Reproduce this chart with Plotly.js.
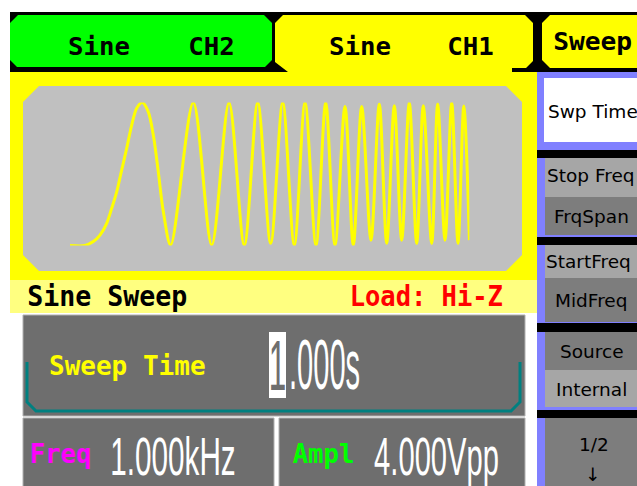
<!DOCTYPE html>
<html><head><meta charset="utf-8">
<script src="https://cdn.plot.ly/plotly-3.0.1.min.js"></script>
<style>html,body{margin:0;padding:0;background:#fff;overflow:hidden}</style>
</head><body><div id="chart" style="width:637px;height:486px"></div>
<script>
// ---- Data read from the display ----
// Sine sweep preview: time in ms over the 1.000 s sweep, output level in volts (4.000 Vpp)
var sweepTimeMs = [0, 37.6, 58.3, 75.1, 91.9, 104.4, 116.9, 129.4, 142.0, 154.5, 167.0, 181.0, 196.0, 208.6, 221.1, 233.6, 252.1,
  308.7, 354.8, 398.1, 436.4, 470.0, 502.5, 532.5, 561.6, 588.4, 615.9, 640.2, 663.5, 688.5, 709.3, 730.3, 753.6,
  774.4, 793.0, 812.0, 830.5, 849.5, 868.1, 884.6, 905.6, 920.6, 938.9, 955.7, 971.5, 986.0, 1000];
var sweepLevelV = [-2.0, -2.0, -1.89, -1.71, -1.38, -0.96, -0.50, 0.11, 0.72, 1.37, 1.84, 2.0, 1.74, 1.09, 0.06, -1.05, -1.99,
  2.0, -1.99, 2.0, -1.99, 2.0, -1.94, 2.0, -1.99, 2.0, -1.99, 2.0, -1.99, 1.89, -1.99, 1.89, -1.85,
  1.96, -1.94, 1.91, -1.85, 2.0, -1.94, 1.91, -1.94, 1.96, -1.85, 2.0, -1.94, 1.9, -1.85];

var tabLabels = ["Sine", "CH2", "Sine", "CH1", "Sweep"];
var statusLabels = ["Sine Sweep", "Load: Hi-Z"];
var paramName = "Sweep Time";
var paramDigit = "1";
var paramRest = ".000s";
var freqLabel = "Freq", freqValue = "1.000kHz";
var amplLabel = "Ampl", amplValue = "4.000Vpp";
var menuLabels = ["Swp Time", "Stop Freq", "FrqSpan", "StartFreq", "MidFreq", "Source", "Internal", "1/2", "\u2193"];

// ---- Layout helpers (pixel space: x 0..637, y 0..486 downward) ----
var W = 637, H = 486;
function rect(x0, y0, x1, y1, fill, line, lw) {
  return {type: 'rect', xref: 'x', yref: 'y', x0: x0, y0: y0, x1: x1, y1: y1, layer: 'below',
    fillcolor: fill, line: {width: lw || 0, color: line || 'rgba(0,0,0,0)'}};
}
function path(d, fill, line, lw) {
  return {type: 'path', xref: 'x', yref: 'y', path: d, layer: 'below',
    fillcolor: fill || 'rgba(0,0,0,0)', line: {width: lw || 0, color: line || 'rgba(0,0,0,0)'}};
}
var GRAY = '#6e6e6e', LIGHTBTN = '#a6a6a6', DARKBTN = '#7d7d7d';
var shapes = [
  rect(10, 12, W, 72, '#000000'),
  path('M10,23 L18,15 L264,15 L272,23 L272,60 L265,67 L17,67 L10,60 Z', '#00ff00'),
  path('M275,23 L283,15 L525,15 L533,23 L533,61 L526,68 L512,68 L512,72 L288,72 L275,62 Z', '#ffff00'),
  path('M542,23 L550,15 L637,15 L637,68 L550,68 L542,60 Z', '#ffff00'),
  rect(10, 72, 537, 280, '#ffff00'),
  path('M39,86 L506,86 L522,102 L522,255 L506,271 L39,271 L23,255 L23,102 Z', '#c0c0c0'),
  rect(10, 280, 537, 313, '#ffff80'),
  rect(537, 72, W, H, '#8080ff'),
  rect(544, 78, W, 142, '#ffffff'),
  rect(537, 150, W, 158, '#000000'),
  rect(545, 158, W, 197, LIGHTBTN),
  rect(545, 197, W, 235, DARKBTN),
  rect(537, 237, W, 245, '#000000'),
  rect(545, 245, W, 278, LIGHTBTN),
  rect(545, 278, W, 322, DARKBTN),
  rect(537, 323, W, 332, '#000000'),
  rect(545, 332, W, 370, DARKBTN),
  rect(545, 370, W, 407, LIGHTBTN),
  rect(537, 410, W, 418, '#000000'),
  rect(545, 418, W, H, DARKBTN),
  rect(23, 315, 525, 416, GRAY, '#b0b0b0', 1),
  path('M27,362 L27,402 L36,411 L511,411 L520,402 L520,362', null, '#008080', 3),
  rect(23, 418, 274, 492, GRAY, '#b0b0b0', 1),
  rect(279, 418, 525, 492, GRAY, '#b0b0b0', 1),
  rect(269, 332, 286, 398, '#ffffff')
];

// ---- Text ----
var MONO = 'DejaVu Sans Mono', BIG = 'Liberation Sans', UI = 'DejaVu Sans';
var annotations = [], squeeze = [];
function txt(t, x, y, family, size, color, weight, xanchor, sx) {
  annotations.push({text: t, x: x, y: y, xref: 'x', yref: 'y', showarrow: false,
    xanchor: xanchor || 'center', yanchor: 'middle', borderpad: 0,
    font: {family: family, size: size, color: color, weight: weight || 'normal'}});
  squeeze.push(sx || 1);
}
txt(tabLabels[0], 99, 46, MONO, 25, '#000', 'bold', 'center', 1.03);
txt(tabLabels[1], 211.5, 46, MONO, 25, '#000', 'bold', 'center', 1.03);
txt(tabLabels[2], 360, 46, MONO, 25, '#000', 'bold', 'center', 1.03);
txt(tabLabels[3], 470.5, 46, MONO, 25, '#000', 'bold', 'center', 1.03);
txt(tabLabels[4], 592.5, 41, MONO, 25, '#000', 'bold', 'center', 1.05);
txt(statusLabels[0], 107.6, 296, MONO, 28, '#000', 'bold', 'center', 0.95);
txt(statusLabels[1], 426, 296, MONO, 28, '#ff0000', 'bold', 'center', 0.91);
txt(paramName, 127.5, 365.5, MONO, 26, '#ffff00', 'bold', 'center', 1.0);
txt(paramDigit, 277.5, 366, BIG, 70, GRAY, 'normal', 'center', 0.45);
txt(paramRest, 324.5, 365, BIG, 70, '#ffffff', 'normal', 'center', 0.415);
txt(freqLabel, 60, 453, MONO, 27, '#ff00ff', 'bold', 'center', 0.95);
txt(freqValue, 173, 456, BIG, 53.5, '#ffffff', 'normal', 'center', 0.555);
txt(amplLabel, 323.4, 453, MONO, 27, '#00ff00', 'bold', 'center', 0.95);
txt(amplValue, 436.3, 456, BIG, 53.5, '#ffffff', 'normal', 'center', 0.545);
txt(menuLabels[0], 547, 111, UI, 18.5, '#000', 'normal', 'left');
txt(menuLabels[1], 546, 175, UI, 18.5, '#000', 'normal', 'left');
txt(menuLabels[2], 591, 216, UI, 18.5, '#000', 'normal', 'center');
txt(menuLabels[3], 545, 261, UI, 18.5, '#000', 'normal', 'left');
txt(menuLabels[4], 591, 300, UI, 18.5, '#000', 'normal', 'center');
txt(menuLabels[5], 591.5, 351, UI, 18.5, '#000', 'normal', 'center');
txt(menuLabels[6], 591, 389, UI, 18.5, '#000', 'normal', 'center');
txt(menuLabels[7], 594, 444, UI, 18.5, '#000', 'normal', 'center');
txt(menuLabels[8], 593, 474, UI, 18.5, '#000', 'normal', 'center');

// waveform subplot placement (pixels)
var wx0 = 70, wx1 = 469.4, wyTop = 102.5, wyBot = 245.5;

var data = [{
  type: 'scatter', mode: 'lines', x: sweepTimeMs, y: sweepLevelV, xaxis: 'x2', yaxis: 'y2',
  line: {color: '#ffff00', width: 3, shape: 'spline', smoothing: 0.9}, hoverinfo: 'skip', cliponaxis: false
}];

var hidden = {visible: false, showgrid: false, zeroline: false, fixedrange: true};
var layout = {
  width: W, height: H, margin: {l: 0, r: 0, t: 0, b: 0, pad: 0},
  paper_bgcolor: '#ffffff', plot_bgcolor: 'rgba(0,0,0,0)', showlegend: false,
  xaxis: Object.assign({range: [0, W], domain: [0, 1]}, hidden),
  yaxis: Object.assign({range: [H, 0], domain: [0, 1]}, hidden),
  xaxis2: Object.assign({range: [0, 1000], domain: [wx0 / W, wx1 / W], anchor: 'y2'}, hidden),
  yaxis2: Object.assign({range: [-2, 2], domain: [(H - wyBot) / H, (H - wyTop) / H], anchor: 'x2'}, hidden),
  shapes: shapes, annotations: annotations
};

var gd = document.getElementById('chart');
Plotly.newPlot(gd, data, layout, {staticPlot: true, displayModeBar: false}).then(function () {
  var groups = gd.querySelectorAll('g.annotation');
  groups.forEach(function (g) {
    var i = +g.getAttribute('data-index');
    var s = squeeze[i];
    if (!s || s === 1) return;
    var tg = g.querySelector('g.annotation-text-g');
    if (!tg) return;
    var bb = tg.getBBox();
    var cx = bb.x + bb.width / 2;
    var old = tg.getAttribute('transform') || '';
    tg.setAttribute('transform', old + ' translate(' + cx + ',0) scale(' + s + ',1) translate(' + (-cx) + ',0)');
  });
});
</script>
</body></html>
